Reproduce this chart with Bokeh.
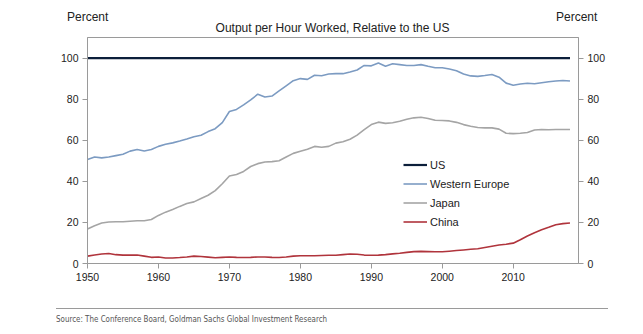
from bokeh.plotting import figure
from bokeh.models import Range1d, LinearAxis, FixedTicker, Legend, LegendItem, Div
from bokeh.layouts import column
from bokeh.embed import file_html
from bokeh.resources import INLINE

years = list(range(1950, 2019))

us = [100.0] * len(years)

western_europe = [
    50.6, 51.8, 51.4, 51.8, 52.5, 53.2, 54.7, 55.5, 54.8, 55.5,
    57.0, 58.0, 58.7, 59.6, 60.6, 61.7, 62.4, 64.2, 65.6, 68.6,
    74.0, 75.0, 77.2, 79.6, 82.4, 81.0, 81.5, 84.0, 86.5, 89.0,
    90.0, 89.6, 91.6, 91.4, 92.2, 92.4, 92.4, 93.2, 94.2, 96.4,
    96.2, 97.6, 96.0, 97.2, 96.8, 96.4, 96.4, 96.8, 96.0, 95.3,
    95.3, 94.7, 93.8, 92.2, 91.3, 91.1, 91.5, 92.0, 90.7, 87.8,
    86.8, 87.4, 87.7, 87.5, 88.0, 88.5, 88.8, 89.1, 88.8,
]

japan = [
    16.8, 18.4, 19.7, 20.2, 20.3, 20.3, 20.6, 20.8, 20.8, 21.4,
    23.4, 25.0, 26.3, 27.8, 29.2, 30.0, 31.6, 33.2, 35.5, 38.8,
    42.6, 43.3, 44.8, 47.2, 48.6, 49.4, 49.6, 50.0, 51.8, 53.6,
    54.6, 55.6, 57.0, 56.6, 57.0, 58.6, 59.3, 60.5, 62.5, 65.2,
    67.6, 68.8, 68.2, 68.5, 69.2, 70.2, 70.9, 71.2, 70.6, 69.7,
    69.6, 69.4, 68.7, 67.6, 66.8, 66.2, 66.0, 66.0, 65.4, 63.4,
    63.2, 63.4, 63.8, 65.0, 65.2, 65.1, 65.2, 65.2, 65.2,
]

china = [
    3.6, 4.1, 4.6, 4.9, 4.3, 4.1, 4.1, 4.1, 3.6, 3.0,
    3.2, 2.7, 2.7, 2.9, 3.2, 3.6, 3.4, 3.1, 2.8, 3.0,
    3.2, 3.0, 2.9, 3.0, 3.2, 3.2, 3.0, 2.9, 3.2, 3.6,
    3.8, 3.8, 3.8, 3.9, 4.0, 4.0, 4.3, 4.6, 4.5, 4.1,
    4.0, 4.1, 4.3, 4.7, 5.0, 5.4, 5.8, 5.9, 5.8, 5.7,
    5.7, 6.0, 6.3, 6.6, 6.9, 7.2, 7.8, 8.4, 9.0, 9.4,
    9.9, 11.6, 13.4, 15.0, 16.4, 17.6, 18.9, 19.4, 19.7,
]

series_names = ["US", "Western Europe", "Japan", "China"]
series_colors = ["#0c1f3a", "#7c9bc2", "#a5a5a5", "#b0343c"]
series_widths = [2.2, 1.6, 1.6, 1.6]

x_ticks = [1950, 1960, 1970, 1980, 1990, 2000, 2010]
y_ticks = [0, 20, 40, 60, 80, 100]

title_text = "Output per Hour Worked, Relative to the US"
unit_text = "Percent"
source_text = "Source: The Conference Board, Goldman Sachs Global Investment Research"

FONT = "Liberation Sans"
AXIS_COLOR = "#9a9a9a"
TEXT_COLOR = "#222222"

p = figure(
    width=643, height=263,
    x_range=Range1d(1950, 2019.2), y_range=Range1d(0, 110),
    output_backend="svg", toolbar_location=None,
    min_border_left=87, min_border_right=65, min_border_top=0, min_border_bottom=37,
)
p.background_fill_color = "white"
p.border_fill_color = "white"
p.outline_line_color = AXIS_COLOR
p.outline_line_width = 1
p.xgrid.visible = False
p.ygrid.visible = False


def style_axis(ax):
    ax.axis_line_color = AXIS_COLOR
    ax.axis_line_width = 1
    ax.major_tick_line_color = AXIS_COLOR
    ax.major_tick_out = 5
    ax.major_tick_in = 0
    ax.minor_tick_line_color = None
    ax.major_label_text_font = FONT
    ax.major_label_text_font_size = "10.5px"
    ax.major_label_text_color = TEXT_COLOR
    ax.major_label_standoff = 4


p.xaxis.ticker = FixedTicker(ticks=x_ticks)
p.yaxis.ticker = FixedTicker(ticks=y_ticks)
style_axis(p.xaxis[0])
style_axis(p.yaxis[0])

right_axis = LinearAxis(ticker=FixedTicker(ticks=y_ticks))
style_axis(right_axis)
p.add_layout(right_axis, "right")

all_series = [us, western_europe, japan, china]
items = []
for name, vals, col, w in zip(series_names, all_series, series_colors, series_widths):
    r = p.line(years, vals, line_color=col, line_width=w)
    items.append(LegendItem(label=name, renderers=[r]))

legend = Legend(
    items=items, location=(316, 32),
    label_text_font=FONT, label_text_font_size="11px", label_text_color=TEXT_COLOR,
    glyph_width=24, glyph_height=19, label_height=19, label_standoff=3,
    spacing=0, padding=0, margin=0,
    background_fill_alpha=0, border_line_color=None,
)
p.add_layout(legend, "center")

txt = "font-family:'Liberation Sans',Arial,sans-serif;font-size:12px;color:#222222;white-space:nowrap;"
header = Div(
    text=(
        '<div style="position:relative;width:643px;height:37px;">'
        '<div style="position:absolute;left:67px;top:9px;' + txt + '">' + unit_text + '</div>'
        '<div style="position:absolute;left:0;width:665px;text-align:center;top:20px;' + txt + '">' + title_text + '</div>'
        '<div style="position:absolute;left:556px;top:9px;' + txt + '">' + unit_text + '</div>'
        '</div>'
    ),
    width=643, height=37, margin=(0, 0, 0, 0),
)

src = Div(
    text=(
        '<div style="margin-left:56px;width:552px;border-top:1px solid #9a9a9a;padding-top:4px;">'
        '<div style="transform:scaleX(0.88);transform-origin:left top;'
        'font-family:\'Liberation Sans Narrow\',\'DejaVu Sans Condensed\',sans-serif;'
        'font-size:9px;color:#555555;white-space:nowrap;">' + source_text + '</div></div>'
    ),
    width=643, height=34, margin=(8, 0, 0, 0),
)

layout = column(header, p, src, spacing=0)

open("out.html", "w").write(file_html(layout, INLINE))
